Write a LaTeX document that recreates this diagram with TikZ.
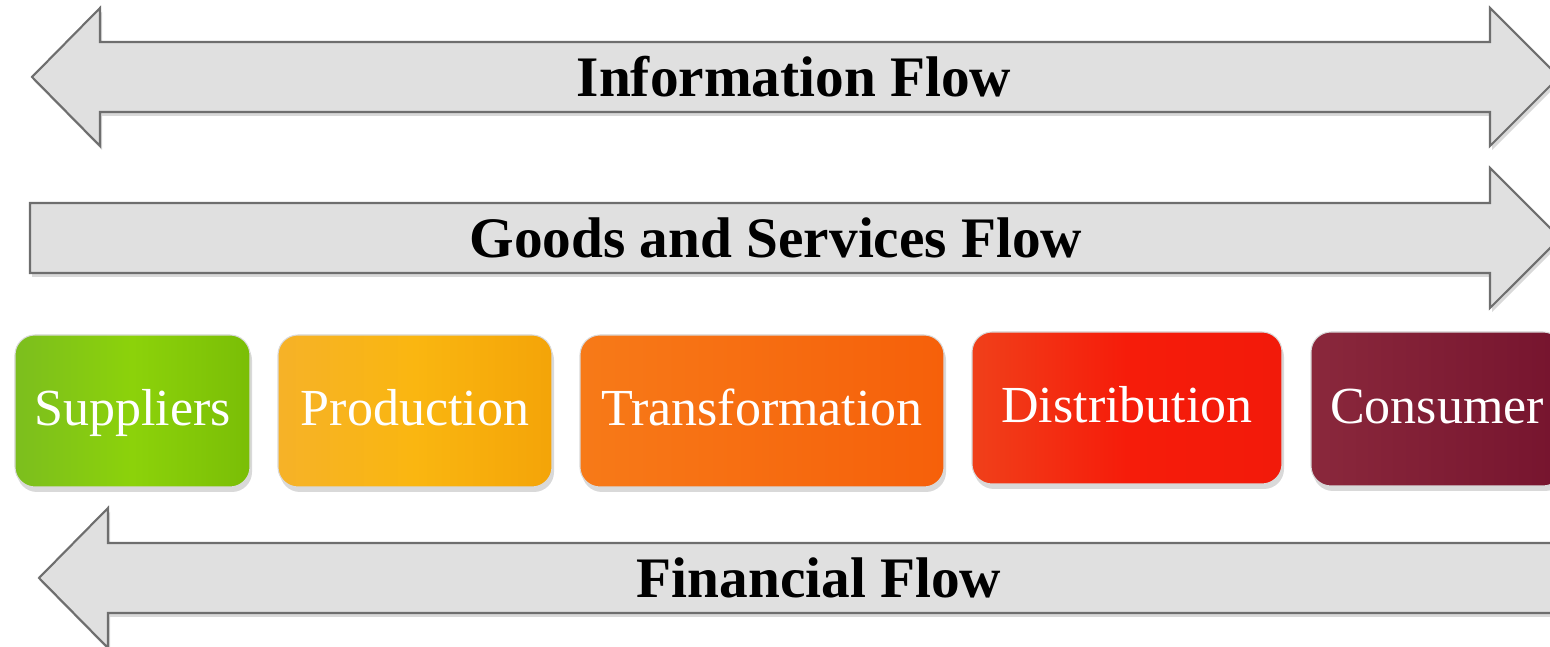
\documentclass[tikz,border=0pt]{standalone}
\usepackage{fontspec}
\setmainfont{Liberation Serif}
\usetikzlibrary{shadows}

\definecolor{arrowfill}{RGB}{224,224,224}
\definecolor{arrowline}{RGB}{110,110,110}
\definecolor{supL}{RGB}{124,190,30}
\definecolor{supM}{RGB}{140,210,10}
\definecolor{supR}{RGB}{122,190,6}
\definecolor{proL}{RGB}{246,178,40}
\definecolor{proM}{RGB}{250,182,16}
\definecolor{proR}{RGB}{244,164,8}
\definecolor{traL}{RGB}{247,122,24}
\definecolor{traR}{RGB}{246,96,10}
\definecolor{disL}{RGB}{240,64,26}
\definecolor{disM}{RGB}{246,28,10}
\definecolor{disR}{RGB}{242,26,10}
\definecolor{conL}{RGB}{138,40,60}
\definecolor{conR}{RGB}{118,20,46}

\begin{document}
\begin{tikzpicture}[
    flowarrow/.style={fill=arrowfill, draw=arrowline, line width=0.6pt, line join=miter,
      drop shadow={shadow xshift=0.02cm, shadow yshift=-0.04cm, opacity=0.3}},
    flowlabel/.style={font=\fontsize{16.3}{19}\selectfont\bfseries},
    stagebox/.style={rounded corners=0.2cm, minimum height=1.52cm, text=white,
      font=\fontsize{14.8}{17}\selectfont, text height=0.4cm, text depth=0.1cm,
      draw=black!15, line width=0.3pt,
      drop shadow={shadow xshift=0.02cm, shadow yshift=-0.05cm, opacity=0.3}}
  ]
    \useasboundingbox (0,0) rectangle (15.5,6.47);
    \clip (0,0) rectangle (15.5,6.47);

    % information (both ways)
    \filldraw [flowarrow] (0.32,5.70) -- (1.00,6.39) -- (1.00,6.05) -- (14.90,6.05) -- (14.90,6.39)
      -- (15.59,5.70) -- (14.90,5.01) -- (14.90,5.35) -- (1.00,5.35) -- (1.00,5.01) -- cycle;
    \node [flowlabel] (info) at (7.94,5.70) {Information Flow};

    % goods and services
    \filldraw [flowarrow] (0.30,4.44) -- (14.90,4.44) -- (14.90,4.79) -- (15.60,4.09)
      -- (14.90,3.39) -- (14.90,3.74) -- (0.30,3.74) -- cycle;
    \node [flowlabel] (goods) at (7.76,4.09) {Goods and Services Flow};

    % stages
    \node [stagebox, minimum width=2.35cm, left color=supL, right color=supR, middle color=supM] (sup) at (1.325,2.36) {Suppliers};
    \node [stagebox, minimum width=2.74cm, left color=proL, right color=proR, middle color=proM] (pro) at (4.15,2.36) {Production};
    \node [stagebox, minimum width=3.64cm, left color=traL, right color=traR] (tra) at (7.62,2.36) {Transformation};
    \node [stagebox, minimum width=3.10cm, left color=disL, right color=disR, middle color=disM] (dis) at (11.27,2.39) {Distribution};
    \node [stagebox, minimum width=2.52cm, minimum height=1.54cm, left color=conL, right color=conR] (con) at (14.37,2.38) {Consumer};

    % money
    \filldraw [flowarrow] (0.39,0.69) -- (1.08,1.39) -- (1.08,1.04) -- (15.60,1.04) -- (15.60,0.34)
      -- (1.08,0.34) -- (1.08,-0.01) -- cycle;
    \node [flowlabel] (money) at (8.19,0.69) {Financial Flow};
  \end{tikzpicture}
\end{document}
